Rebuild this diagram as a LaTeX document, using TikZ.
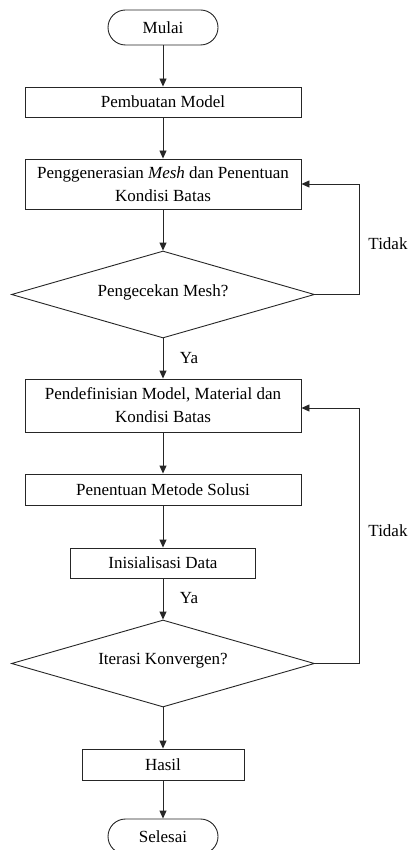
\documentclass[tikz,border=0pt]{standalone}
\usepackage{fontspec}
\setmainfont{Liberation Serif}
\usetikzlibrary{shapes.geometric,arrows.meta}
\begin{document}
\begin{tikzpicture}[x=1pt,y=-1pt,
  every node/.style={font=\fontsize{17}{23}\selectfont, text=black},
  proc/.style={draw=black!85, line width=0.9pt, rectangle, inner sep=0pt, align=center},
  term/.style={draw=black!85, line width=0.9pt, rectangle, rounded corners=17.5pt, minimum width=110pt, minimum height=35pt, inner sep=0pt},
  dec/.style={draw=black!85, line width=0.9pt, diamond, shape aspect=3.48, minimum width=303pt, minimum height=87pt, inner sep=0pt},
  arr/.style={draw=black!85, line width=0.9pt, -{Triangle[length=8pt,width=7pt]}},
  lbl/.style={inner sep=0pt}
]
\useasboundingbox (0,0) rectangle (411,850);
\node[term] (mulai) at (163,27.5) {Mulai};
\node[proc, minimum width=276pt, minimum height=30pt] (model) at (163,102) {Pembuatan Model};
\node[proc, minimum width=276pt, minimum height=50pt] (gen) at (163,184) {Penggenerasian \textit{Mesh} dan Penentuan\\Kondisi Batas};
\node[dec] (dia1) at (163,294.5) {\raisebox{8pt}{Pengecekan Mesh?}};
\node[proc, minimum width=276pt, minimum height=53pt] (pend) at (163,405.5) {Pendefinisian Model, Material dan\\Kondisi Batas};
\node[proc, minimum width=276pt, minimum height=31pt] (metode) at (163,489.5) {Penentuan Metode Solusi};
\node[proc, minimum width=185pt, minimum height=30pt] (init) at (163,563) {Inisialisasi Data};
\node[dec] (dia2) at (163,663.5) {\raisebox{10pt}{Iterasi Konvergen?}};
\node[proc, minimum width=162pt, minimum height=31pt] (hasil) at (163,764.5) {Hasil};
\node[term] (selesai) at (163,836.5) {Selesai};

\draw[arr] (mulai) -- (model);
\draw[arr] (model) -- (gen);
\draw[arr] (gen) -- (dia1);
\draw[arr] (dia1) -- (pend);
\draw[arr] (pend) -- (metode);
\draw[arr] (metode) -- (init);
\draw[arr] (init) -- (dia2);
\draw[arr] (dia2) -- (hasil);
\draw[arr] (hasil) -- (selesai);

\coordinate (c1) at (359,294.5);
\coordinate (c2) at (359,663.5);
\draw[arr] (dia1.east) -- (c1) |- (gen.east);
\draw[arr] (dia2.east) -- (c2) |- ([yshift=-2.5pt]pend.east);

\node[lbl] (t1) at (388,244) {Tidak};
\node[lbl] (t2) at (388,531) {Tidak};
\node[lbl] (y1) at (189,358) {Ya};
\node[lbl] (y2) at (189,598) {Ya};
\end{tikzpicture}
\end{document}
